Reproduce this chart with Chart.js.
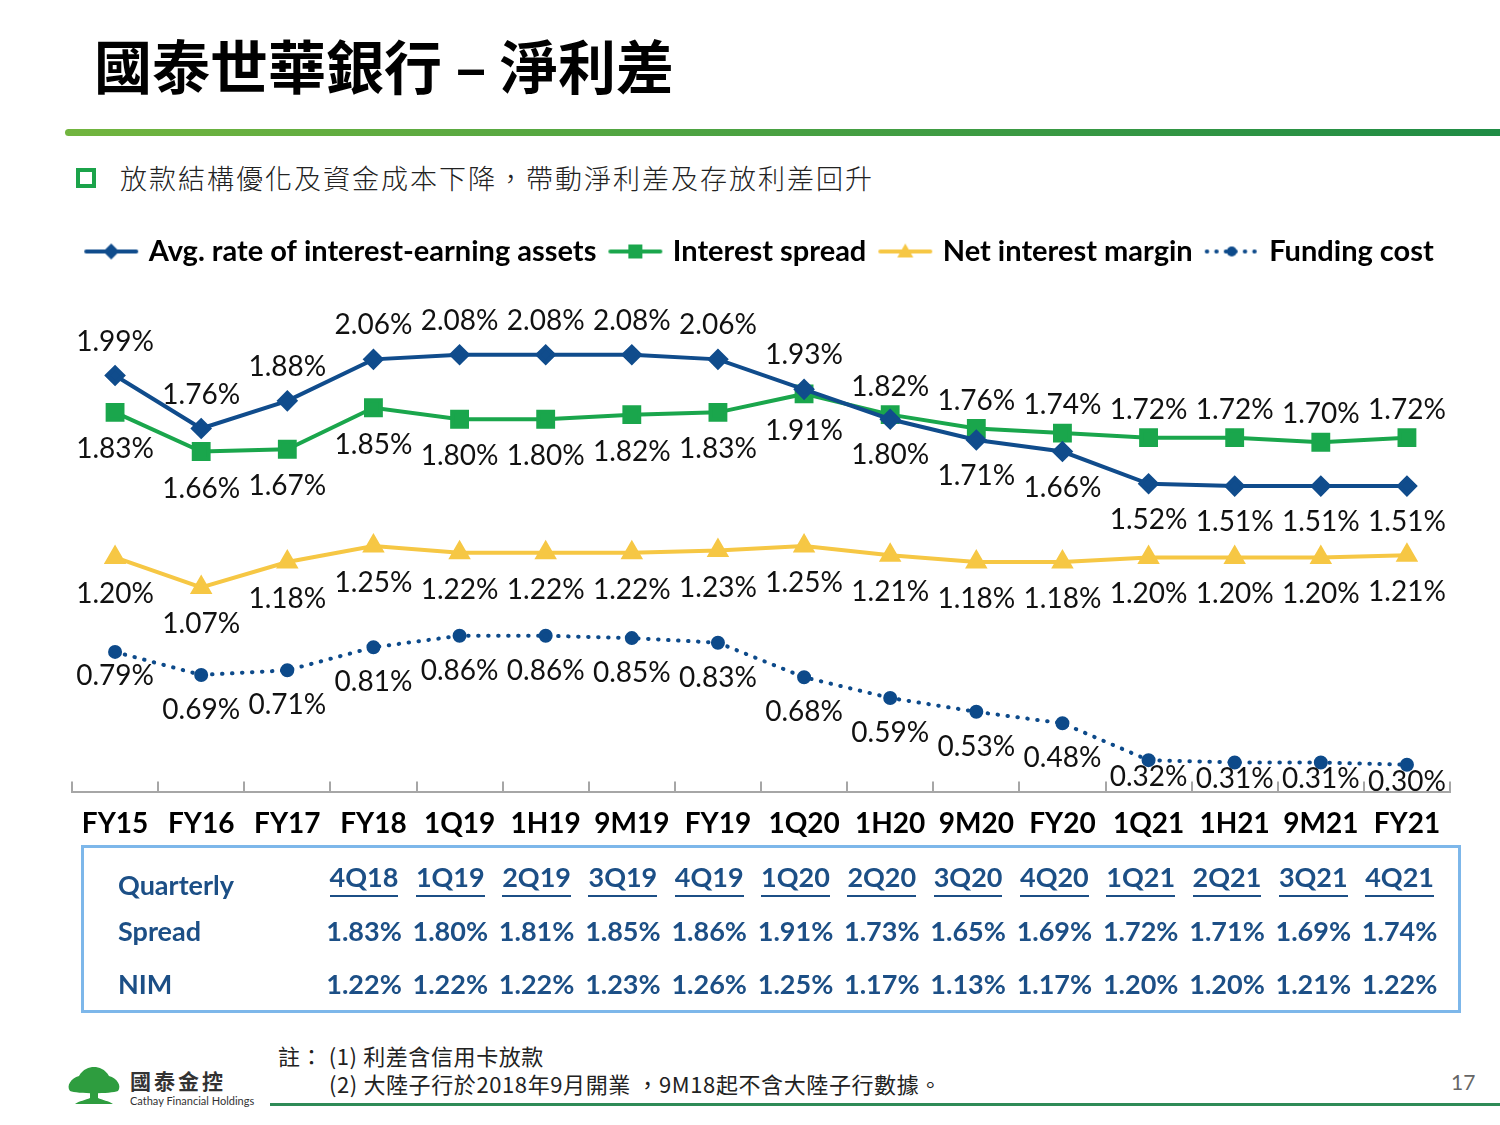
<!DOCTYPE html>
<html>
<head>
<meta charset="utf-8">
<script src="https://cdn.jsdelivr.net/npm/chart.js@4.4.0/dist/chart.umd.min.js"></script>
<style>
  body { margin: 0; width: 1500px; height: 1125px; background: #fff; position: relative; overflow: hidden; font-family: Lato, "Noto Sans CJK TC", sans-serif; }
  .abs { position: absolute; }
  #title { left: 94px; top: 24px; font: bold 58px "Noto Sans CJK TC"; color: #000; white-space: nowrap; line-height: 80px; }
  #bar { left: 65px; top: 129px; width: 1435px; height: 7px; border-radius: 4px 0 0 4px; background: linear-gradient(to right, #72b53f, #1f8c45); }
  #bullet { left: 76px; top: 168px; width: 12px; height: 12px; border: 4px solid #1ba34a; }
  #sub { left: 120px; top: 159px; font: 300 27px "Noto Sans CJK TC"; letter-spacing: 2px; color: #222; white-space: nowrap; line-height: 38px; }
  #chartBox { left: 0; top: 207px; width: 1500px; height: 649px; }
  #table { left: 81px; top: 845px; width: 1374px; height: 162px; border: 3px solid #7db7ea; }
  .cell { position: absolute; width: 86px; text-align: center; font: bold 27px Lato; color: #1c4f86; white-space: nowrap; }
  .hdr span { border-bottom: 2px solid #1c4f86; padding-bottom: 2px; }
  .rowlab { position: absolute; font: bold 27px Lato; color: #1c4f86; }
  #note1 { left: 278px; top: 1039px; font: 22px "Noto Sans CJK TC"; letter-spacing: 0.6px; color: #222; white-space: nowrap; }
  #note2 { left: 329px; top: 1067px; font: 22px "Noto Sans CJK TC"; letter-spacing: 0.6px; color: #222; white-space: nowrap; }
  #pg { left: 1451px; top: 1069px; font: 21px Lato; color: #666; }
  #fline { left: 270px; top: 1103px; width: 1230px; height: 3px; background: #2e8b57; }
  #logoTxt { left: 130px; top: 1065px; font: bold 21px "Noto Sans CJK TC"; color: #333; letter-spacing: 3px; }
  #logoSub { left: 130px; top: 1094px; font: 11px Lato; color: #333; }
</style>
</head>
<body>
<div id="title" class="abs">國泰世華銀行 – 淨利差</div>
<div id="bar" class="abs"></div>
<div id="bullet" class="abs"></div>
<div id="sub" class="abs">放款結構優化及資金成本下降，帶動淨利差及存放利差回升</div>
<div id="chartBox" class="abs"><canvas id="nim-chart"></canvas></div>
<div id="table" class="abs"></div>
<div id="note1" class="abs">註： (1) 利差含信用卡放款</div>
<div id="note2" class="abs">(2) 大陸子行於2018年9月開業 ，9M18起不含大陸子行數據。</div>
<div id="pg" class="abs">17</div>
<div id="fline" class="abs"></div>
<svg class="abs" style="left:66px;top:1064px" width="56" height="44" viewBox="0 0 56 42">
  <path d="M4 26 C0 21 5 13 13 11 C17 4 23 2 28 2 C33 2 39 4 43 11 C51 13 56 21 52 26 C45 29 11 29 4 26 Z" fill="#2e9d3f"/>
  <path d="M24 26 L32 26 L32 33 C36 35 43 36 47 39 L9 39 C13 36 20 35 24 33 Z" fill="#2e9d3f"/>
</svg>
<div id="logoTxt" class="abs">國泰金控</div>
<div id="logoSub" class="abs">Cathay Financial Holdings</div>

<script>
const periods = ['FY15', 'FY16', 'FY17', 'FY18', '1Q19', '1H19', '9M19', 'FY19', '1Q20', '1H20', '9M20', 'FY20', '1Q21', '1H21', '9M21', 'FY21'];
const avgAssetRate = [1.99, 1.76, 1.88, 2.06, 2.08, 2.08, 2.08, 2.06, 1.93, 1.80, 1.71, 1.66, 1.52, 1.51, 1.51, 1.51];
const interestSpread = [1.83, 1.66, 1.67, 1.85, 1.80, 1.80, 1.82, 1.83, 1.91, 1.82, 1.76, 1.74, 1.72, 1.72, 1.70, 1.72];
const netInterestMargin = [1.20, 1.07, 1.18, 1.25, 1.22, 1.22, 1.22, 1.23, 1.25, 1.21, 1.18, 1.18, 1.20, 1.20, 1.20, 1.21];
const fundingCost = [0.79, 0.69, 0.71, 0.81, 0.86, 0.86, 0.85, 0.83, 0.68, 0.59, 0.53, 0.48, 0.32, 0.31, 0.31, 0.30];

const quarters = ['4Q18', '1Q19', '2Q19', '3Q19', '4Q19', '1Q20', '2Q20', '3Q20', '4Q20', '1Q21', '2Q21', '3Q21', '4Q21'];
const quarterlySpread = [1.83, 1.80, 1.81, 1.85, 1.86, 1.91, 1.73, 1.65, 1.69, 1.72, 1.71, 1.69, 1.74];
const quarterlyNim = [1.22, 1.22, 1.22, 1.23, 1.26, 1.25, 1.17, 1.13, 1.17, 1.20, 1.20, 1.21, 1.22];

const BLUE = '#104c8c';
const GREEN = '#1aa64c';
const YELLOW = '#f6c744';
const DOT_BLUE = '#0d4a8a';

// quarterly table under the chart
const table = document.getElementById('table');
const addRowLabel = (text, top) => {
    const d = document.createElement('div');
    d.className = 'rowlab';
    d.style.left = '34px';
    d.style.top = top + 'px';
    d.textContent = text;
    table.appendChild(d);
};
addRowLabel('Quarterly', 20);
addRowLabel('Spread', 66);
addRowLabel('NIM', 119);
quarters.forEach((q, i) => {
    const left = 237 + i * 86.3;
    const rows = [
        { top: 12, html: `<span>${q}</span>`, cls: 'cell hdr' },
        { top: 66, html: quarterlySpread[i].toFixed(2) + '%', cls: 'cell' },
        { top: 119, html: quarterlyNim[i].toFixed(2) + '%', cls: 'cell' }
    ];
    rows.forEach(r => {
        const d = document.createElement('div');
        d.className = r.cls;
        d.style.left = left + 'px';
        d.style.top = r.top + 'px';
        d.innerHTML = r.html;
        table.appendChild(d);
    });
});

// legend swatches: line with the series marker in the middle
function legendSwatch(color, marker, dotted) {
    const c = document.createElement('canvas');
    c.width = 56; c.height = 22;
    const g = c.getContext('2d');
    g.strokeStyle = color; g.fillStyle = color;
    g.lineWidth = 4; g.lineCap = 'round';
    if (dotted) g.setLineDash([0.5, 9]);
    g.beginPath(); g.moveTo(3, 11); g.lineTo(53, 11); g.stroke();
    g.setLineDash([]);
    g.beginPath();
    if (marker === 'diamond') { g.moveTo(28, 3); g.lineTo(36, 11); g.lineTo(28, 19); g.lineTo(20, 11); }
    if (marker === 'square') { g.rect(21, 4, 14, 14); }
    if (marker === 'triangle') { g.moveTo(28, 3); g.lineTo(36, 17); g.lineTo(20, 17); }
    if (marker === 'circle') { g.arc(28, 11, 5, 0, Math.PI * 2); }
    g.fill();
    return c;
}

const labelOffsets = [
    i => i < 9 ? -34 : 36,
    i => i < 9 ? 37 : -28,
    i => 37,
    i => i === 0 ? 24 : (i >= 12 ? 17 : 35)
];

const valueLabels = {
    id: 'valueLabels',
    afterDatasetsDraw(chart) {
        const ctx = chart.ctx;
        ctx.save();
        ctx.font = '28px Lato';
        ctx.fillStyle = '#111';
        ctx.textAlign = 'center';
        ctx.textBaseline = 'middle';
        chart.data.datasets.forEach((ds, di) => {
            chart.getDatasetMeta(di).data.forEach((pt, i) => {
                ctx.fillText(ds.data[i].toFixed(2) + '%', pt.x, pt.y + labelOffsets[di](i));
            });
        });
        ctx.restore();
    }
};

// small upward tick marks between categories
const boundaryTicks = {
    id: 'boundaryTicks',
    beforeDatasetsDraw(chart) {
        const xs = chart.scales.x;
        const bottom = chart.chartArea.bottom;
        const step = xs.getPixelForValue(1) - xs.getPixelForValue(0);
        const ctx = chart.ctx;
        ctx.save();
        ctx.strokeStyle = '#a6a6a6';
        ctx.lineWidth = 2;
        for (let i = 0; i <= periods.length; i++) {
            const px = Math.round(xs.getPixelForValue(0) - step / 2 + i * step);
            ctx.beginPath();
            ctx.moveTo(px, bottom - 11);
            ctx.lineTo(px, bottom);
            ctx.stroke();
        }
        ctx.restore();
    }
};

// extra room between the legend and the plot
const legendSpacer = {
    id: 'legendSpacer',
    beforeInit(chart) {
        const fit = chart.legend.fit;
        chart.legend.fit = function () {
            fit.bind(chart.legend)();
            this.height += 35;
        };
    }
};

const canvas = document.getElementById('nim-chart');
new Chart(canvas.getContext('2d'), {
    type: 'line',
    data: {
        labels: periods,
        datasets: [
            {
                label: 'Avg. rate of interest-earning assets',
                data: avgAssetRate,
                borderColor: BLUE, backgroundColor: BLUE,
                borderWidth: 4, pointStyle: 'rectRot', pointRadius: 8,
                legendImg: legendSwatch(BLUE, 'diamond')
            },
            {
                label: 'Interest spread',
                data: interestSpread,
                borderColor: GREEN, backgroundColor: GREEN,
                borderWidth: 4, pointStyle: 'rect', pointRadius: 10.5,
                legendImg: legendSwatch(GREEN, 'square')
            },
            {
                label: 'Net interest margin',
                data: netInterestMargin,
                borderColor: YELLOW, backgroundColor: YELLOW,
                borderWidth: 4, pointStyle: 'triangle', pointRadius: 9,
                legendImg: legendSwatch(YELLOW, 'triangle')
            },
            {
                label: 'Funding cost',
                data: fundingCost,
                borderColor: DOT_BLUE, backgroundColor: DOT_BLUE,
                borderWidth: 4, borderDash: [0.5, 9.5], borderCapStyle: 'round',
                pointStyle: 'circle', pointRadius: 5,
                legendImg: legendSwatch(DOT_BLUE, 'circle', true)
            }
        ]
    },
    options: {
        responsive: true,
        maintainAspectRatio: false,
        animation: false,
        layout: { padding: { left: 72, right: 50, top: 14, bottom: 0 } },
        plugins: {
            tooltip: { enabled: false },
            legend: {
                position: 'top',
                labels: {
                    usePointStyle: true,
                    pointStyleWidth: 46,
                    padding: 16,
                    color: '#000',
                    font: { family: 'Lato', size: 29, weight: 'bold' },
                    generateLabels: chart => chart.data.datasets.map((ds, i) => ({
                        text: ds.label,
                        datasetIndex: i,
                        pointStyle: ds.legendImg,
                        fillStyle: ds.borderColor,
                        strokeStyle: ds.borderColor,
                        lineWidth: 0,
                        fontColor: '#000'
                    }))
                }
            }
        },
        scales: {
            x: {
                offset: true,
                grid: { display: false, drawTicks: false },
                border: { display: true, color: '#a6a6a6', width: 2 },
                ticks: { color: '#000', padding: 15, font: { family: 'Lato', size: 28, weight: 'bold' } }
            },
            y: {
                display: false,
                min: 0.18,
                max: 2.27
            }
        }
    },
    plugins: [legendSpacer, boundaryTicks, valueLabels]
});
</script>
</body>
</html>
